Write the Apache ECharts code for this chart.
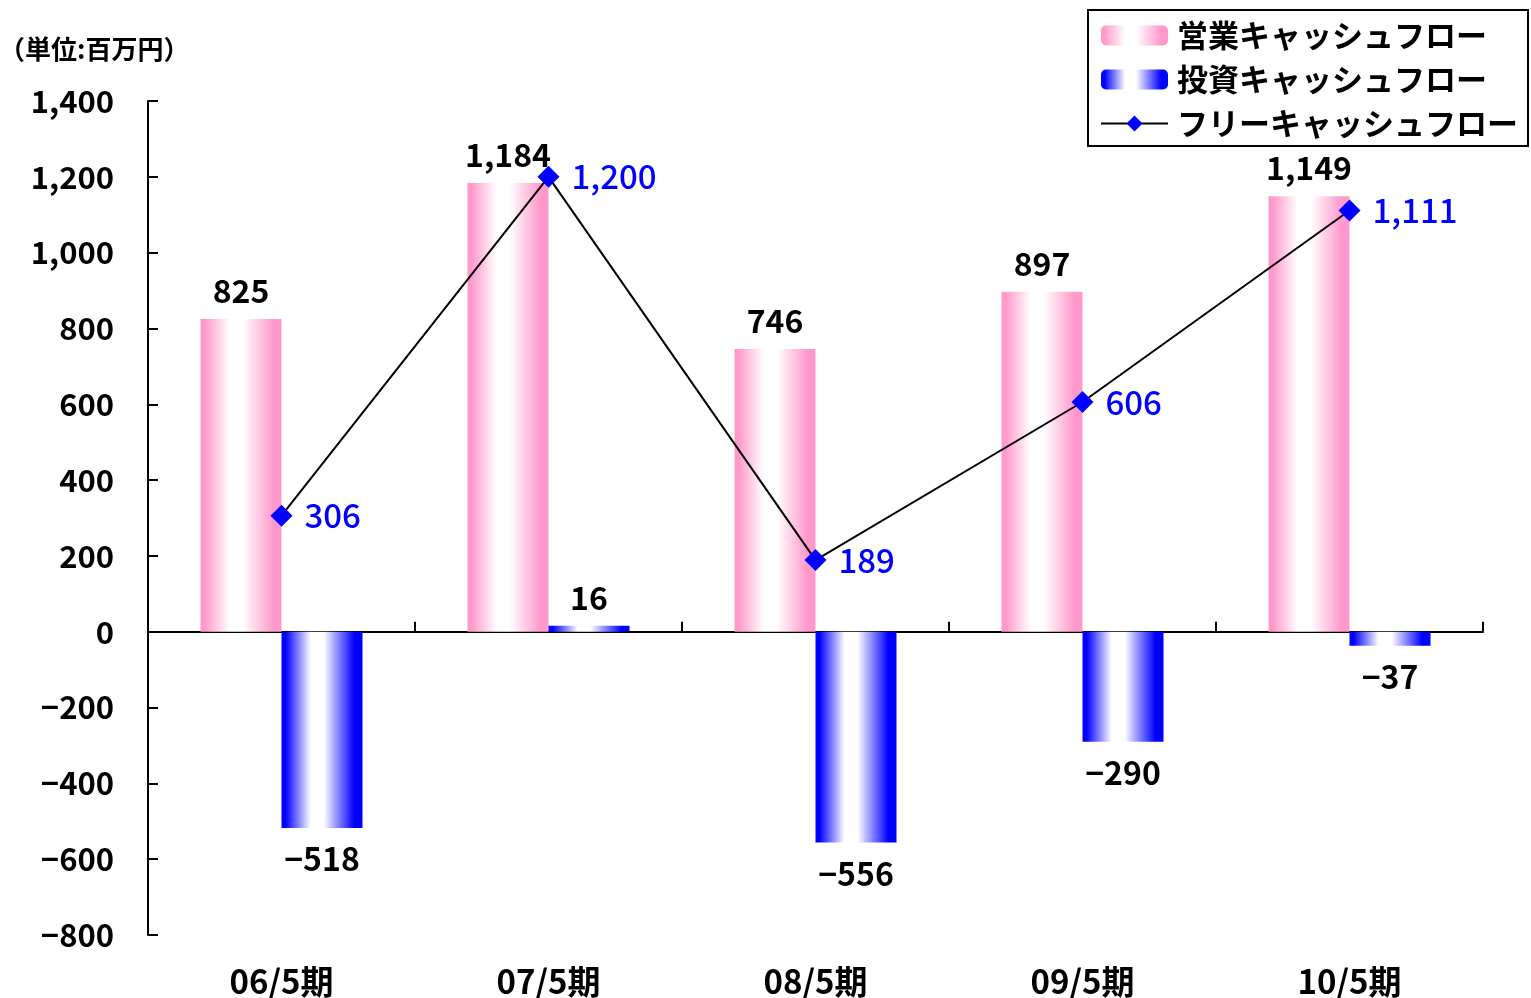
<!DOCTYPE html>
<html>
<head>
<meta charset="utf-8">
<script src="https://cdn.jsdelivr.net/npm/echarts@6/dist/echarts.min.js"></script>
<style>
  html, body { margin: 0; padding: 0; background: #fff; }
  #chart { width: 1531px; height: 998px; }
</style>
</head>
<body>
<div id="chart"></div>
<script>
// Fiscal periods and cash-flow figures (millions of yen)
const periods = ['06/5期', '07/5期', '08/5期', '09/5期', '10/5期'];
const operatingCF = [825, 1184, 746, 897, 1149];
const investingCF = [-518, 16, -556, -290, -37];
const freeCF = [306, 1200, 189, 606, 1111];

const seriesNames = ['営業キャッシュフロー', '投資キャッシュフロー', 'フリーキャッシュフロー'];
const unitTitle = '（単位:百万円）';

const FONT = '"Noto Sans CJK JP", "Noto Sans", sans-serif';

function fmt(v) {
  const s = String(Math.abs(v)).replace(/\B(?=(\d{3})+(?!\d))/g, ',');
  return (v < 0 ? '−' : '') + s;
}

function hGradient(edge) {
  return new echarts.graphic.LinearGradient(0, 0, 1, 0, [
    { offset: 0, color: edge },
    { offset: 0.05, color: edge },
    { offset: 0.36, color: '#ffffff' },
    { offset: 0.52, color: '#ffffff' },
    { offset: 0.9, color: edge },
    { offset: 1, color: edge }
  ]);
}

const chart = echarts.init(document.getElementById('chart'));

const valueLabel = {
  show: true,
  color: '#000',
  fontFamily: FONT,
  fontWeight: 'bold',
  fontSize: 32,
  formatter: p => fmt(p.value)
};

chart.setOption({
  animation: false,
  backgroundColor: '#fff',
  textStyle: { fontFamily: FONT },
  title: {
    text: unitTitle,
    left: -6,
    top: 31,
    textStyle: { fontFamily: FONT, fontSize: 26, fontWeight: 'bold', color: '#000' }
  },
  legend: {
    orient: 'vertical',
    left: 1088,
    top: 10,
    padding: [10, 10, 7, 12],
    itemGap: 13,
    itemWidth: 67,
    itemHeight: 20,
    borderColor: '#000',
    borderWidth: 2,
    backgroundColor: '#fff',
    data: seriesNames,
    textStyle: { fontFamily: FONT, fontSize: 31, fontWeight: 'bold', color: '#000', padding: [0, 0, 0, 4] }
  },
  grid: { left: 148, right: 48, top: 101, bottom: 62, containLabel: false },
  xAxis: [
    {
      type: 'category',
      data: periods,
      axisLine: { onZero: true, lineStyle: { color: '#000', width: 2 } },
      axisTick: { show: true, inside: true, length: 10, alignWithLabel: false, lineStyle: { color: '#000', width: 2 } },
      axisLabel: { show: false },
      splitLine: { show: false }
    },
    {
      type: 'category',
      data: periods,
      position: 'bottom',
      axisLine: { show: false, onZero: false },
      axisTick: { show: false },
      axisLabel: { show: true, margin: 30, color: '#000', fontFamily: FONT, fontWeight: 'bold', fontSize: 33 },
      splitLine: { show: false }
    }
  ],
  yAxis: {
    type: 'value',
    min: -800,
    max: 1400,
    interval: 200,
    axisLine: { show: true, lineStyle: { color: '#000', width: 2 } },
    axisTick: { show: true, inside: true, length: 10, lineStyle: { color: '#000', width: 2 } },
    axisLabel: { margin: 34, color: '#000', fontFamily: FONT, fontWeight: 'bold', fontSize: 31, formatter: v => fmt(v) },
    splitLine: { show: false }
  },
  series: [
    {
      name: seriesNames[0],
      type: 'bar',
      xAxisIndex: 0,
      barWidth: 81,
      barGap: '0%',
      itemStyle: { color: hGradient('#ff99cc') },
      label: Object.assign({ position: 'top', distance: 12 }, valueLabel),
      data: operatingCF
    },
    {
      name: seriesNames[1],
      type: 'bar',
      xAxisIndex: 0,
      barWidth: 81,
      barGap: '0%',
      itemStyle: { color: hGradient('#0000ff') },
      label: Object.assign({ position: 'top', distance: 12 }, valueLabel),
      data: investingCF.map(v => ({ value: v, label: { position: v < 0 ? 'bottom' : 'top', distance: v < 0 ? 15 : 12 } }))
    },
    {
      name: seriesNames[2],
      type: 'line',
      xAxisIndex: 0,
      symbol: 'diamond',
      symbolSize: 22,
      itemStyle: { color: '#0000ff' },
      lineStyle: { color: '#000', width: 2 },
      label: {
        show: true,
        position: 'right',
        distance: 12,
        color: '#0000ff',
        fontFamily: FONT,
        fontSize: 33,
        fontWeight: 500,
        formatter: p => fmt(p.value)
      },
      z: 5,
      data: freeCF
    }
  ]
});
</script>
</body>
</html>
